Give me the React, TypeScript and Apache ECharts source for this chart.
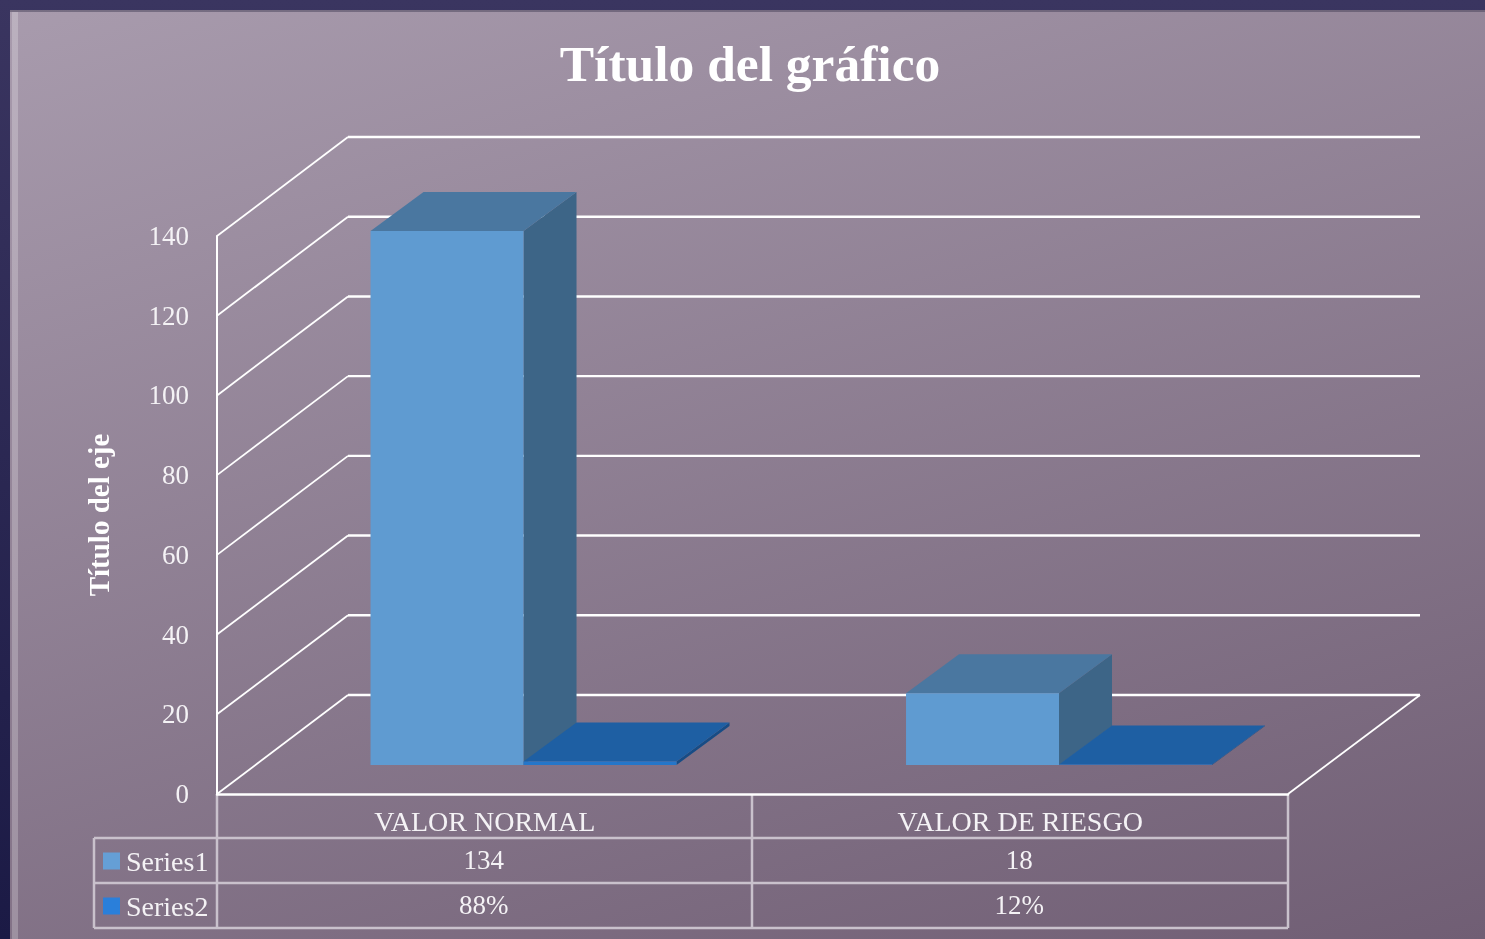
import React, { useEffect, useRef } from "react";
import * as echarts from "echarts";

const categories = ["VALOR NORMAL", "VALOR DE RIESGO"];
const series1Name = "Series1";
const series2Name = "Series2";
const series1Values = [134, 18];
const series2Values = [0.88, 0.12];
const series2Labels = ["88%", "12%"];
const yTicks = [0, 20, 40, 60, 80, 100, 120, 140];

const FONT = '"Liberation Serif", serif';
const WALL_DX = 131;
const WALL_DY = 99;
const BAR_DX = 53;
const BAR_DY = 39;
const FLOOR_DY = 29;
const BAR_W_FRAC = 0.2857;

function barRenderer(startFrac: number, front: string, top: string, side: string) {
  return (_params: any, api: any) => {
    const cat = api.value(0);
    const val = api.value(1);
    const band = api.size([1, 0])[0];
    const tip = api.coord([cat, val]);
    const base = api.coord([cat, 0]);
    const x0 = tip[0] + startFrac * band;
    const x1 = x0 + BAR_W_FRAC * band;
    const yb = base[1] - FLOOR_DY;
    const yt = tip[1] - FLOOR_DY;
    return {
      type: "group",
      children: [
        { type: "polygon", shape: { points: [[x1, yb], [x1 + BAR_DX, yb - BAR_DY], [x1 + BAR_DX, yt - BAR_DY], [x1, yt]] }, style: { fill: side } },
        { type: "polygon", shape: { points: [[x0, yt], [x1, yt], [x1 + BAR_DX, yt - BAR_DY], [x0 + BAR_DX, yt - BAR_DY]] }, style: { fill: top } },
        { type: "rect", shape: { x: x0, y: yt, width: x1 - x0, height: yb - yt }, style: { fill: front } },
      ],
    };
  };
}

function wallRenderer(params: any, api: any) {
  const v = api.value(1);
  const p = api.coord([0, v]);
  const cs = params.coordSys;
  const left = cs.x;
  const right = cs.x + cs.width;
  const white = { stroke: "#ffffff", lineWidth: 2.4, fill: "none" };
  const kids: any[] = [
    { type: "line", shape: { x1: left, y1: p[1], x2: left + WALL_DX, y2: p[1] - WALL_DY }, style: { stroke: "#ffffff", lineWidth: 1.8 } },
    { type: "line", shape: { x1: left + WALL_DX, y1: p[1] - WALL_DY, x2: right + WALL_DX + 1, y2: p[1] - WALL_DY }, style: white },
  ];
  if (v === 0) {
    kids.push({ type: "line", shape: { x1: right, y1: p[1], x2: right + WALL_DX + 1, y2: p[1] - WALL_DY }, style: { stroke: "#ffffff", lineWidth: 1.8 } });
  }
  return { type: "group", children: kids };
}

function tableRenderer(_params: any, api: any) {
  const cat = api.value(0);
  const p = api.coord([cat, 0]);
  const font = `27px ${FONT}`;
  const mk = (text: string, y: number) => ({
    type: "text",
    style: { x: p[0] - 1, y, text, fill: "#f4f2f5", font, align: "center", verticalAlign: "middle" },
  });
  return { type: "group", children: [mk(String(series1Values[cat]), 860), mk(series2Labels[cat], 905)] };
}

const tableLine = "#c9c1cc";
function hLine(x1: number, x2: number, y: number) {
  return { type: "line", z: -1, shape: { x1, y1: y, x2, y2: y }, style: { stroke: tableLine, lineWidth: 2.5 } };
}
function vLine(x: number, y1: number, y2: number) {
  return { type: "line", z: -1, shape: { x1: x, y1, x2: x, y2 }, style: { stroke: tableLine, lineWidth: 2.5 } };
}

export default function App() {
  const ref = useRef<HTMLDivElement>(null);
  useEffect(() => {
    const chart = echarts.init(ref.current!, undefined, { renderer: "svg" });
    chart.setOption({
      animation: false,
      backgroundColor: "transparent",
      title: {
        text: "Título del gráfico",
        left: 745,
        top: 32,
        textAlign: "center",
        textStyle: { fontFamily: FONT, fontWeight: "bold", fontSize: 51.5, color: "#ffffff" },
      },
      legend: {
        orient: "vertical",
        left: 98,
        top: 842,
        icon: "rect",
        itemWidth: 17,
        itemHeight: 17,
        itemGap: 17,
        selectedMode: false,
        data: [series1Name, series2Name],
        textStyle: { fontFamily: FONT, fontSize: 28, color: "#f4f2f5", padding: [0, 0, 2, 1] },
      },
      grid: { left: 217, right: 197, top: 236, bottom: 145 },
      xAxis: {
        type: "category",
        data: categories,
        axisLine: { show: true, lineStyle: { color: "#ffffff", width: 2.5 } },
        axisTick: { show: false },
        axisLabel: { fontFamily: FONT, fontSize: 28, color: "#f4f2f5", margin: 13 },
      },
      yAxis: {
        type: "value",
        min: 0,
        max: 140,
        interval: 20,
        name: "Título del eje",
        nameLocation: "middle",
        nameRotate: 90,
        nameGap: 104,
        nameTextStyle: { fontFamily: FONT, fontWeight: "bold", fontSize: 29, color: "#ffffff" },
        axisLine: { show: true, lineStyle: { color: "#ffffff", width: 2 } },
        axisTick: { show: false },
        splitLine: { show: false },
        axisLabel: { fontFamily: FONT, fontSize: 27, color: "#f4f2f5", margin: 28, padding: [2, 0, 0, 0] },
      },
      series: [
        {
          type: "custom",
          name: "pared",
          renderItem: wallRenderer,
          data: yTicks.map((v) => [0, v]),
          silent: true,
          z: 1,
        },
        {
          type: "custom",
          name: series1Name,
          renderItem: barRenderer(-0.2133, "#5f9bd1", "#4a77a0", "#3d6587"),
          itemStyle: { color: "#659fd6" },
          data: series1Values.map((v, i) => [i, v]),
          z: 2,
        },
        {
          type: "custom",
          name: series2Name,
          renderItem: barRenderer(0.0724, "#2576c9", "#1e5fa3", "#174c85"),
          itemStyle: { color: "#2a7fda" },
          data: series2Values.map((v, i) => [i, v]),
          z: 3,
        },
        {
          type: "custom",
          name: "tabla",
          renderItem: tableRenderer,
          data: categories.map((_c, i) => [i, 0]),
          silent: true,
          z: 4,
        },
      ],
      graphic: [
        {
          type: "rect",
          z: -5,
          shape: { x: 0, y: 0, width: 1485, height: 939 },
          style: {
            fill: { type: "linear", x: 0, y: 0, x2: 0, y2: 1, colorStops: [{ offset: 0, color: "#3a3560" }, { offset: 1, color: "#1b1a45" }] },
          },
        },
        {
          type: "rect",
          z: -4,
          shape: { x: 10, y: 10, width: 1475, height: 929 },
          style: {
            fill: {
              type: "linear", global: true, x: 10, y: 10, x2: 392, y2: 1270,
              colorStops: [{ offset: 0, color: "#a89bad" }, { offset: 1, color: "#705e74" }],
            },
          },
        },
        { type: "rect", z: -3, shape: { x: 10, y: 10, width: 1475, height: 2 }, style: { fill: "rgba(60,55,80,0.45)" } },
        { type: "rect", z: -3, shape: { x: 12, y: 12, width: 6, height: 927 }, style: { fill: "rgba(255,255,255,0.22)" } },
        hLine(94, 1288, 838),
        hLine(94, 1288, 883),
        hLine(94, 1288, 928),
        vLine(94, 838, 928),
        vLine(217, 795, 928),
        vLine(752, 795, 928),
        vLine(1288, 795, 928),
      ],
    });
    return () => chart.dispose();
  }, []);
  return <div ref={ref} style={{ position: "fixed", left: 0, top: 0, width: 1485, height: 939 }} />;
}
